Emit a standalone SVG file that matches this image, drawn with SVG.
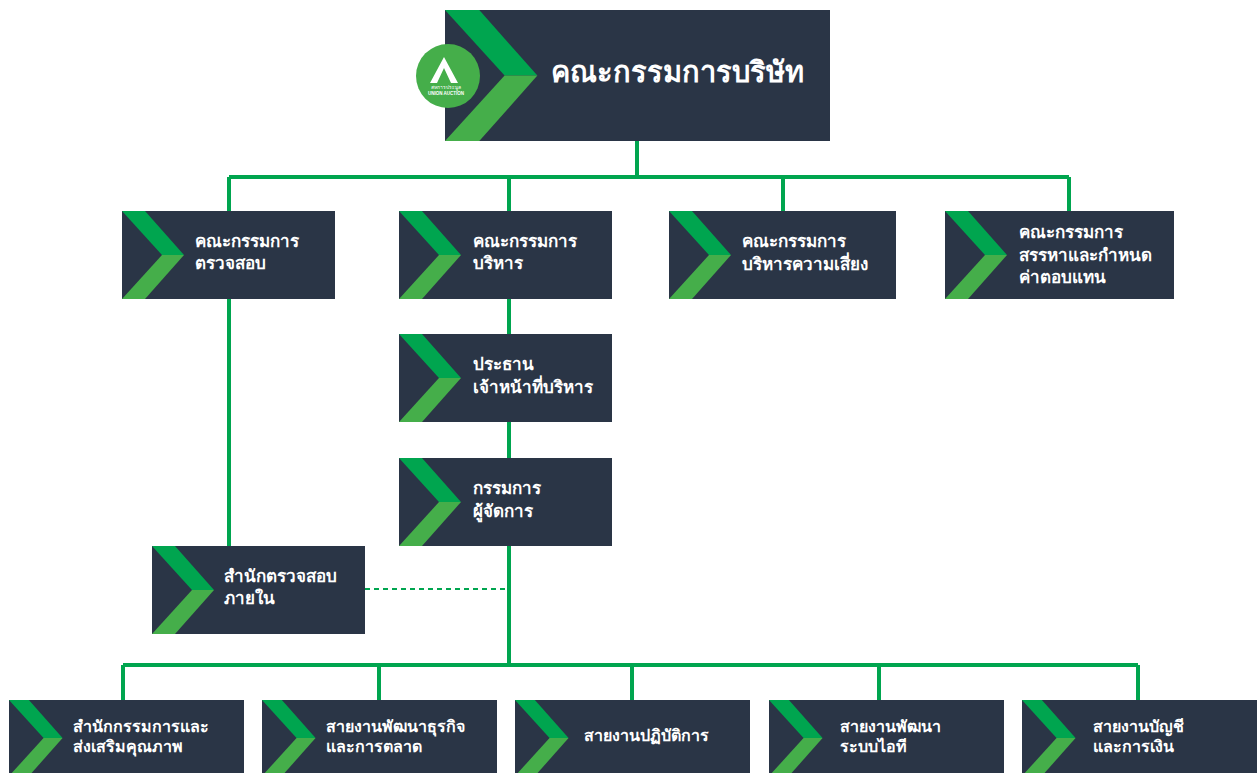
<svg xmlns="http://www.w3.org/2000/svg" xmlns:xlink="http://www.w3.org/1999/xlink" width="1257" height="773" viewBox="0 0 1257 773">
<style>
.box{fill:#2a3546}
.g1{fill:#00a54f}
.g2{fill:#45ae4a}
.lbl{fill:#ffffff;font-family:"Noto Sans","DejaVu Sans",sans-serif;font-size:17px;font-weight:600}
.lbls{fill:#ffffff;font-family:"Noto Sans","DejaVu Sans",sans-serif;font-size:16px;font-weight:600}
.title{fill:#ffffff;font-family:"Noto Sans","DejaVu Sans",sans-serif;font-size:29px;font-weight:600}
.conn{fill:none;stroke:#00a54f;stroke-width:4}
.dash{fill:none;stroke:#00a54f;stroke-width:2;stroke-dasharray:5 4}
</style>
<defs>
<g id="chev">
<polygon class="g1" points="0,0 23,0 62,44 40,44"/>
<polygon class="g2" points="40,44 62,44 23,88 0,88"/>
</g>
</defs>
<rect width="1257" height="773" fill="#ffffff"/>
<g id="connectors">
<path class="conn" d="M637,141 V177 M229,177 H1069 M229,177 V211 M509,177 V211 M783,177 V211 M1069,177 V211"/>
<path class="conn" d="M229,299 V546 M509,299 V334 M509,422 V458 M509,546 V665 M123,665 H1138 M123,665 V700 M379,665 V700 M632,665 V700 M879,665 V700 M1138,665 V700"/>
<path class="dash" d="M365,589 H505"/>
</g>
<g id="board">
<rect class="box" x="445" y="10" width="385" height="131"/>
<use xlink:href="#chev" transform="translate(445,10) scale(1.49)"/>
<circle cx="448" cy="76" r="32" fill="#45ae4a"/>
<polygon points="444,57 430,83 437,83 444,68 451,83 458,83" fill="#ffffff"/>
<text x="446" y="89" text-anchor="middle" fill="#ffffff" style="font-family:'Noto Sans','DejaVu Sans',sans-serif;font-size:5px">สหการประมูล</text>
<text x="446" y="95" text-anchor="middle" fill="#ffffff" style="font-family:'Liberation Sans',sans-serif;font-size:4.5px;font-weight:bold">UNION AUCTION</text>
<text class="title" x="551" y="82">คณะกรรมการบริษัท</text>
</g>
<g id="audit-committee">
<rect class="box" x="122" y="211" width="213" height="88"/>
<use xlink:href="#chev" transform="translate(122,211)"/>
<text class="lbl" x="195" y="247">คณะกรรมการ</text>
<text class="lbl" x="195" y="269">ตรวจสอบ</text>
</g>
<g id="exec-committee">
<rect class="box" x="399" y="211" width="213" height="88"/>
<use xlink:href="#chev" transform="translate(399,211)"/>
<text class="lbl" x="473" y="247">คณะกรรมการ</text>
<text class="lbl" x="473" y="269">บริหาร</text>
</g>
<g id="risk-committee">
<rect class="box" x="669" y="211" width="227" height="88"/>
<use xlink:href="#chev" transform="translate(669,211)"/>
<text class="lbl" x="742" y="247">คณะกรรมการ</text>
<text class="lbl" x="742" y="270">บริหารความเสี่ยง</text>
</g>
<g id="remuneration-committee">
<rect class="box" x="945" y="211" width="229" height="88"/>
<use xlink:href="#chev" transform="translate(945,211)"/>
<text class="lbl" x="1019" y="238">คณะกรรมการ</text>
<text class="lbl" x="1019" y="261">สรรหาและกำหนด</text>
<text class="lbl" x="1019" y="283">ค่าตอบแทน</text>
</g>
<g id="ceo">
<rect class="box" x="399" y="334" width="213" height="88"/>
<use xlink:href="#chev" transform="translate(399,334)"/>
<text class="lbl" x="473" y="370">ประธาน</text>
<text class="lbl" x="473" y="393">เจ้าหน้าที่บริหาร</text>
</g>
<g id="md">
<rect class="box" x="399" y="458" width="213" height="88"/>
<use xlink:href="#chev" transform="translate(399,458)"/>
<text class="lbl" x="473" y="494">กรรมการ</text>
<text class="lbl" x="473" y="517">ผู้จัดการ</text>
</g>
<g id="internal-audit">
<rect class="box" x="152" y="546" width="213" height="88"/>
<use xlink:href="#chev" transform="translate(152,546)"/>
<text class="lbl" x="224" y="582">สำนักตรวจสอบ</text>
<text class="lbl" x="224" y="604">ภายใน</text>
</g>
<g id="office-quality">
<rect class="box" x="9" y="700" width="235" height="76"/>
<use xlink:href="#chev" transform="translate(9,700) scale(0.864)"/>
<text class="lbls" x="73" y="732">สำนักกรรมการและ</text>
<text class="lbls" x="73" y="752">ส่งเสริมคุณภาพ</text>
</g>
<g id="bizdev">
<rect class="box" x="262" y="700" width="235" height="76"/>
<use xlink:href="#chev" transform="translate(262,700) scale(0.864)"/>
<text class="lbls" x="326" y="732">สายงานพัฒนาธุรกิจ</text>
<text class="lbls" x="326" y="752">และการตลาด</text>
</g>
<g id="operations">
<rect class="box" x="515" y="700" width="235" height="76"/>
<use xlink:href="#chev" transform="translate(515,700) scale(0.864)"/>
<text class="lbls" x="584" y="741">สายงานปฏิบัติการ</text>
</g>
<g id="it">
<rect class="box" x="769" y="700" width="235" height="76"/>
<use xlink:href="#chev" transform="translate(769,700) scale(0.864)"/>
<text class="lbls" x="840" y="732">สายงานพัฒนา</text>
<text class="lbls" x="840" y="752">ระบบไอที</text>
</g>
<g id="finance">
<rect class="box" x="1022" y="700" width="240" height="76"/>
<use xlink:href="#chev" transform="translate(1022,700) scale(0.864)"/>
<text class="lbls" x="1093" y="732">สายงานบัญชี</text>
<text class="lbls" x="1093" y="752">และการเงิน</text>
</g>
</svg>
